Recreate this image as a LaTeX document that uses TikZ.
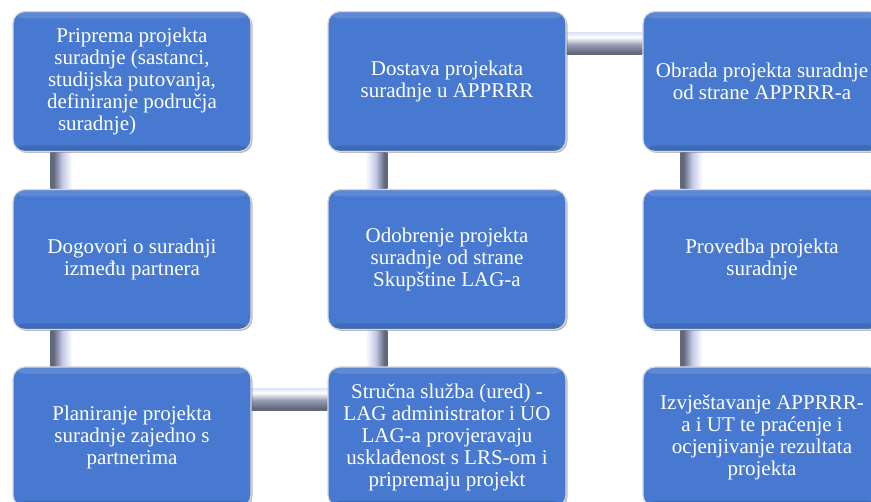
\documentclass[tikz,border=0pt]{standalone}
\usepackage{fontspec}
\setmainfont{Liberation Serif}
\usetikzlibrary{shadows,backgrounds}

\definecolor{boxblue}{RGB}{72,121,208}
\definecolor{boxedge}{RGB}{214,216,222}
\definecolor{barlite}{RGB}{196,202,232}
\definecolor{barmid}{RGB}{150,156,180}
\definecolor{bardark}{RGB}{98,104,124}
\pgfdeclareverticalshading{hbarshade}{100bp}{color(0bp)=(barlite); color(12bp)=(bardark); color(30bp)=(bardark); color(48bp)=(barmid); color(65bp)=(white); color(85bp)=(barlite); color(100bp)=(barlite)}
\pgfdeclarehorizontalshading{vbarshade}{100bp}{color(0bp)=(barmid); color(12bp)=(bardark); color(32bp)=(bardark); color(52bp)=(barlite); color(75bp)=(white); color(100bp)=(barlite)}
\pgfdeclarehorizontalshading{vbarshadeflip}{100bp}{color(0bp)=(barlite); color(25bp)=(white); color(48bp)=(barlite); color(68bp)=(bardark); color(88bp)=(bardark); color(100bp)=(barmid)}

\tikzset{
  stepbox/.style={draw=boxedge, line width=1.2pt, fill=boxblue, rounded corners=12pt,
    minimum width=238pt, minimum height=140pt, inner sep=4pt, text=white, align=center,
    font=\fontsize{21}{22}\selectfont,
    drop shadow={shadow xshift=1.5pt, shadow yshift=-1.5pt, fill=black!60, opacity=0.45},
    path picture={
      \fill[white, opacity=0.12] (path picture bounding box.north west) rectangle ([yshift=-7pt]path picture bounding box.north east);
      \fill[black, opacity=0.12] (path picture bounding box.south west) rectangle ([yshift=6pt]path picture bounding box.south east);
    }},
  hbar/.style={shading=hbarshade},
  vbar/.style={shading=vbarshade},
  vbarflip/.style={shading=vbarshadeflip}
}

\begin{document}
\begin{tikzpicture}[x=1pt, y=-1pt]
\useasboundingbox (0,0) rectangle (871,502);
\clip (0,0) rectangle (871,502);
% Row 1
\node[stepbox] (priprema) at (132,81.5) {Priprema projekta\\suradnje (sastanci,\\studijska putovanja,\\definiranje područja\\\makebox[148pt][l]{suradnje)}};
\node[stepbox] (dostava) at (447,81.5) {Dostava projekata\\suradnje u APPRRR};
\node[stepbox] (obrada) at (762,81.5) {Obrada projekta suradnje\\od strane APPRRR-a};
% Row 2
\node[stepbox] (dogovori) at (132,259.5) {Dogovori o suradnji\\između partnera};
\node[stepbox] (odobrenje) at (447,259.5) {Odobrenje projekta\\suradnje od strane\\Skupštine LAG-a};
\node[stepbox] (provedba) at (762,259.5) {Provedba projekta\\suradnje};
% Row 3
\node[stepbox] (planiranje) at (132,437) {Planiranje projekta\\suradnje zajedno s\\partnerima};
\node[stepbox] (sluzba) at (447,437) {Stručna služba (ured) -\\LAG administrator i UO\\LAG-a provjeravaju\\usklađenost s LRS-om i\\pripremaju projekt};
\node[stepbox] (izvjestavanje) at (762,437) {Izvještavanje APPRRR-\\a i UT te praćenje i\\ocjenjivanje rezultata\\projekta};

% Connectors
\begin{pgfonlayer}{background}
\path[vbar] ([xshift=38pt]priprema.south west) rectangle ([xshift=60pt]dogovori.north west);
\path[vbar] ([xshift=38pt]dogovori.south west) rectangle ([xshift=60pt]planiranje.north west);
\path[hbar] ([yshift=-22pt]planiranje.north east) rectangle ([yshift=-44pt]sluzba.north west);
\path[vbarflip] ([xshift=38pt]odobrenje.south west) rectangle ([xshift=60pt]sluzba.north west);
\path[vbarflip] ([xshift=38pt]dostava.south west) rectangle ([xshift=60pt]odobrenje.north west);
\path[hbar] ([yshift=-22pt]dostava.north east) rectangle ([yshift=-44pt]obrada.north west);
\path[vbar] ([xshift=38pt]obrada.south west) rectangle ([xshift=60pt]provedba.north west);
\path[vbar] ([xshift=38pt]provedba.south west) rectangle ([xshift=60pt]izvjestavanje.north west);
\end{pgfonlayer}
\end{tikzpicture}
\end{document}
